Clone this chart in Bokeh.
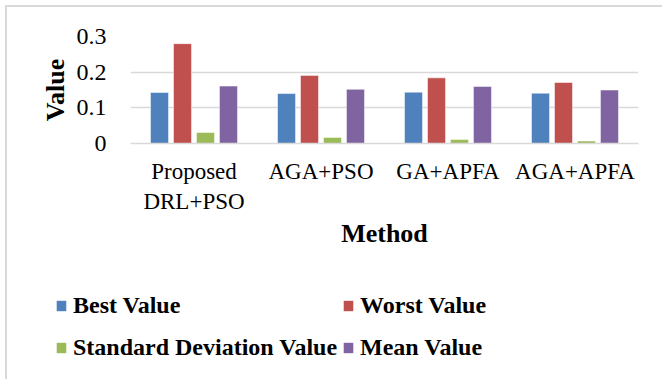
from bokeh.plotting import figure
from bokeh.layouts import column
from bokeh.models import (ColumnDataSource, FactorRange, Range1d, FixedTicker, Legend,
                          LegendItem)
from bokeh.transform import dodge
from bokeh.embed import file_html
from bokeh.resources import INLINE

methods = ["Proposed\nDRL+PSO", "AGA+PSO", "GA+APFA", "AGA+APFA"]
best_value = [0.143, 0.140, 0.144, 0.141]
worst_value = [0.280, 0.191, 0.184, 0.171]
std_value = [0.031, 0.017, 0.011, 0.007]
mean_value = [0.161, 0.152, 0.160, 0.150]
series_names = ["Best Value", "Worst Value", "Standard Deviation Value", "Mean Value"]
colors = ["#4F81BD", "#C0504D", "#9BBB59", "#8064A2"]
y_ticks = [0, 0.1, 0.2, 0.3]
y_tick_labels = ["0", "0.1", "0.2", "0.3"]

source = ColumnDataSource(dict(method=methods, best=best_value, worst=worst_value,
                               std=std_value, mean=mean_value))

OFF = 7
W = 662 - OFF
H1 = 253
H2 = 379 - OFF - H1
FONT = "Liberation Serif"

p = figure(width=W, height=H1, x_range=FactorRange(*methods), y_range=Range1d(0, 0.3),
           output_backend="svg", toolbar_location=None, frame_align=False,
           min_border_left=130 - OFF, min_border_right=24, min_border_top=36 - OFF,
           min_border_bottom=H1 - (36 - OFF) - 107)

step = 0.181
bw = 0.142
offsets = [-1.5 * step, -0.5 * step, 0.5 * step, 1.5 * step]
cols = ["best", "worst", "std", "mean"]
for col, off, c in zip(cols, offsets, colors):
    p.vbar(x=dodge("method", off, range=p.x_range), top=col, width=bw, source=source,
           fill_color=c, line_color="white", line_alpha=0.5, line_width=1)

p.yaxis.ticker = FixedTicker(ticks=y_ticks)
p.yaxis.major_label_overrides = {t: l for t, l in zip(y_ticks, y_tick_labels)}
p.yaxis.axis_line_color = None
p.yaxis.major_tick_line_color = None
p.yaxis.minor_tick_line_color = None
p.yaxis.major_label_standoff = 18
p.yaxis.major_label_text_font = FONT
p.yaxis.major_label_text_font_size = "24px"
p.yaxis.major_label_text_color = "black"
p.yaxis.axis_label = "Value"
p.yaxis.axis_label_text_font = FONT
p.yaxis.axis_label_text_font_style = "bold"
p.yaxis.axis_label_text_font_size = "26px"
p.yaxis.axis_label_text_color = "black"
p.yaxis.axis_label_standoff = 4

p.xaxis.axis_line_color = "#d9d9d9"
p.xaxis.axis_line_width = 1.5
p.xaxis.major_tick_line_color = None
p.xaxis.minor_tick_line_color = None
p.xaxis.major_label_standoff = 9
p.xaxis.major_label_text_font = FONT
p.xaxis.major_label_text_font_size = "23px"
p.xaxis.major_label_text_color = "black"
p.xaxis.major_label_orientation = "horizontal"
p.xaxis.axis_label = "Method"
p.xaxis.axis_label_text_font = FONT
p.xaxis.axis_label_text_font_style = "bold"
p.xaxis.axis_label_text_font_size = "26px"
p.xaxis.axis_label_text_color = "black"
p.xaxis.axis_label_standoff = 2

p.xgrid.grid_line_color = None
p.ygrid.grid_line_color = "#d9d9d9"
p.ygrid.grid_line_width = 1.5
p.outline_line_color = None
p.x_range.range_padding = 0
p.x_range.group_padding = 0

# legend panel: same series drawn against a y range that keeps the bars out of view
q = figure(width=W, height=H2, x_range=FactorRange(*methods), y_range=Range1d(10, 11),
           output_backend="svg", toolbar_location=None, x_axis_type=None, y_axis_type=None,
           min_border=0, frame_align=False)
q.grid.grid_line_color = None
q.outline_line_color = None
legend_renderers = []
for col, off, c in zip(cols, offsets, colors):
    r = q.vbar(x=dodge("method", off, range=q.x_range), top=col, width=bw, source=source,
               fill_color=c, line_color=None)
    legend_renderers.append(r)

legend = Legend(items=[LegendItem(label=n, renderers=[r]) for n, r in zip(series_names, legend_renderers)],
                location=(55 - OFF, 13), ncols=2, orientation="horizontal",
                glyph_width=12, glyph_height=13, label_standoff=6, label_height=37,
                spacing=5, padding=0, margin=0, border_line_color=None,
                background_fill_alpha=0,
                label_text_font=FONT, label_text_font_style="bold",
                label_text_font_size="24px", label_text_color="black")
q.add_layout(legend, "center")

layout = column(p, q, spacing=0, margin=(OFF - 2, 0, 0, OFF - 2),
                styles={"border-top": "2px solid #d9d9d9", "border-left": "2px solid #d9d9d9"})

open("out.html", "w").write(file_html(layout, INLINE))
